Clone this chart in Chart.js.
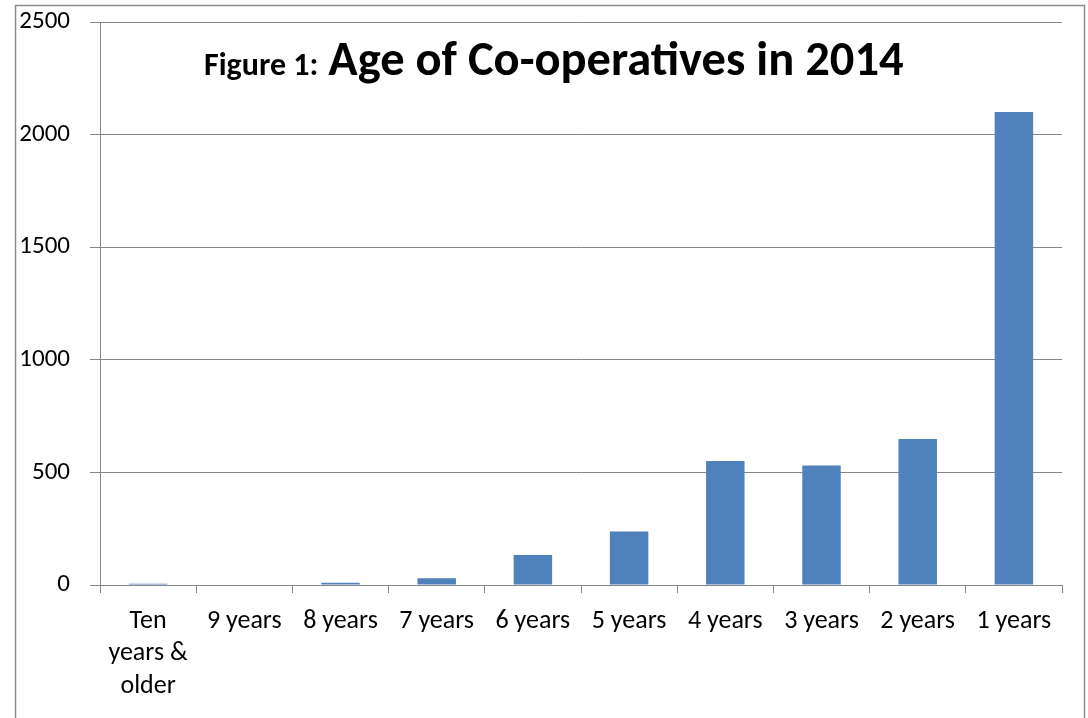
<!DOCTYPE html>
<html>
<head>
<meta charset="utf-8">
<script src="https://cdn.jsdelivr.net/npm/chart.js@4"></script>
<style>
    html, body { margin: 0; padding: 0; background: #fff; }
    #wrap { position: relative; width: 1088px; height: 718px; }
    #title {
        position: absolute; left: 204px; top: 27px;
        font-family: Carlito, Calibri, Lato, sans-serif; font-weight: bold; color: #000;
        white-space: nowrap; line-height: 64px;
    }
    #title .small { font-size: 32px; }
    #title .big { font-size: 48.5px; margin-left: 10px; }
</style>
</head>
<body>
<div id="wrap">
    <canvas id="ageChart" width="1088" height="718"></canvas>
    <div id="title"><span class="small">Figure 1:</span><span class="big">Age of Co-operatives in 2014</span></div>
</div>
<script>
const categories = [['Ten', 'years &', 'older'], '9 years', '8 years', '7 years', '6 years', '5 years', '4 years', '3 years', '2 years', '1 years'];
const coopCounts = [5, 2, 10, 30, 133, 238, 551, 531, 648, 2100];
const yTicks = [0, 500, 1000, 1500, 2000, 2500];

document.addEventListener('DOMContentLoaded', () => {
    const fontFamily = 'Carlito, Calibri, Lato, sans-serif';

    // outer chart frame like the spreadsheet export
    const framePlugin = {
        id: 'frame',
        beforeDraw(chart) {
            const ctx = chart.ctx;
            ctx.save();
            ctx.strokeStyle = '#8c8c8c';
            ctx.lineWidth = 1.5;
            ctx.strokeRect(15.5, 5.5, 1069, 800);
            ctx.restore();
        }
    };

    const ctx = document.getElementById('ageChart').getContext('2d');
    new Chart(ctx, {
        type: 'bar',
        data: {
            labels: categories,
            datasets: [{
                data: coopCounts,
                backgroundColor: '#4f81bd',
                borderWidth: 0,
                categoryPercentage: 1,
                barPercentage: 0.4
            }]
        },
        options: {
            responsive: false,
            animation: false,
            layout: { padding: { left: 0, top: 22, right: 26, bottom: 0 } },
            plugins: {
                legend: { display: false },
                tooltip: { enabled: false }
            },
            scales: {
                x: {
                    grid: { offset: true, drawOnChartArea: false, drawTicks: true, tickLength: 8, color: '#868686' },
                    border: { color: '#868686', width: 1 },
                    ticks: { color: '#000', font: { family: fontFamily, size: 26, lineHeight: 1.25 }, padding: 12, maxRotation: 0, autoSkip: false },
                    afterFit: s => { s.height = 133; s.paddingLeft = 0; s.paddingRight = 0; }
                },
                y: {
                    min: 0,
                    max: 2500,
                    afterBuildTicks: s => { s.ticks = yTicks.map(v => ({ value: v })); },
                    grid: { color: '#868686', tickLength: 10 },
                    border: { color: '#868686', width: 1 },
                    ticks: { color: '#000', font: { family: fontFamily, size: 25 }, padding: 20, callback: v => String(v) },
                    afterFit: s => { s.width = 100; s.paddingTop = 0; s.paddingBottom = 0; }
                }
            }
        },
        plugins: [framePlugin]
    });
});
</script>
</body>
</html>
